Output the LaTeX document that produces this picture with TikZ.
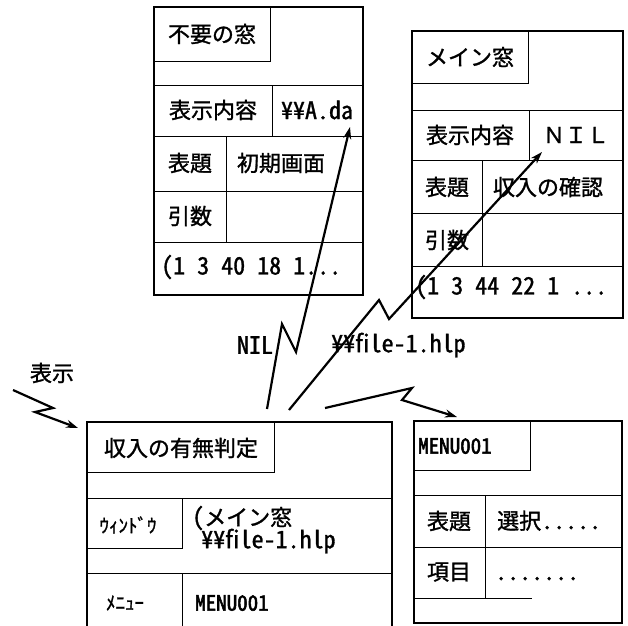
\documentclass[tikz,border=0pt]{standalone}
\usepackage{fontspec}
\setmainfont[FakeBold=1.3]{Noto Sans CJK JP}
\newfontfamily\hw[RawFeature=+hwid,FakeBold=1.3]{Noto Sans CJK JP}
\newfontfamily\hwb[RawFeature=+hwid,FakeBold=2.5]{Noto Sans CJK JP}
\usetikzlibrary{arrows.meta,fit}
\begin{document}
\begin{tikzpicture}[x=1pt,y=-1pt,
  cell/.style={draw,line width=1pt,inner sep=0pt,outer sep=0pt},
  frame/.style={draw,line width=2.6pt,inner sep=0pt,outer sep=0pt},
  jt/.style={font=\fontsize{22}{22}\selectfont,inner sep=0pt},
  js/.style={font=\fontsize{19}{19}\selectfont,inner sep=0pt},
  lt/.style={font=\hw\fontsize{24}{24}\selectfont,inner sep=0pt},
  lb/.style={font=\hwb\fontsize{21}{21}\selectfont,inner sep=0pt},
  arr/.style={line width=2.2pt,-{Stealth[length=12pt,width=8pt]}}]
\useasboundingbox (0,0) rectangle (628,625);
% ---------- top-left window
\node[cell,fit={(154,7)(270,61)}] (tlName) {};
\node[cell,fit={(154,85)(363,136)}] (tlRow1) {};
\node[cell,fit={(154,85)(272,136)}] (tlDisp) {};
\node[cell,fit={(154,136)(363,191)}] (tlRow2) {};
\node[cell,fit={(154,136)(226,191)}] (tlTitle) {};
\node[cell,fit={(154,191)(226,242)}] (tlArg) {};
\node[cell,fit={(154,242)(363,295)}] (tlRow4) {};
\node[frame,fit={(154,7)(363,295)}] (tl) {};
\node[jt] (tlT1) at (212,34) {不要の窓};
\node[jt] (tlT2) at (213,110) {表示内容};
\node[lt] (tlA) at (317,110) {¥¥A.da};
\node[jt] (tlT3) at (190,163) {表題};
\node[jt] (tlT4) at (281,163) {初期画面};
\node[jt] (tlT5) at (190,216) {引数};
\node[lt,anchor=west] (tlT6) at (161,267) {(1 3 40 18 1...};
% ---------- top-right window
\node[cell,fit={(412,31)(528,83)}] (trName) {};
\node[cell,fit={(412,110)(623,160)}] (trRow1) {};
\node[cell,fit={(412,110)(529,160)}] (trDisp) {};
\node[cell,fit={(412,160)(623,213)}] (trRow2) {};
\node[cell,fit={(412,160)(482,213)}] (trTitle) {};
\node[cell,fit={(412,213)(482,266)}] (trArg) {};
\node[cell,fit={(412,266)(623,318)}] (trRow4) {};
\node[frame,fit={(412,31)(623,318)}] (tr) {};
\node[jt] (trT1) at (470,57) {メイン窓};
\node[jt] (trT2) at (470,135) {表示内容};
\node[jt] (trN) at (576,135) {ＮＩＬ};
\node[jt] (trT3) at (447,187) {表題};
\node[jt] (trT4) at (548,187) {収入の確認};
\node[jt] (trT5) at (447,240) {引数};
\node[lt,anchor=west] (trT6) at (415,287) {(1 3 44 22 1 ...};
% ---------- bottom-left window
\node[cell,fit={(87,422)(274,472)}] (blName) {};
\node[cell,fit={(87,498)(392,573)}] (blRow1) {};
\node[cell,fit={(87,498)(182,548)}] (blWin) {};
\node[cell,fit={(87,573)(182,640)}] (blMenu) {};
\node[frame,fit={(87,422)(392,640)}] (bl) {};
\node[jt] (blT1) at (181,448) {収入の有無判定};
\node[js] (blT2) at (128,525) {ｳｨﾝﾄﾞｳ};
\node[jt,anchor=west] (blT3) at (192,518) {\hw\fontsize{24}{24}\selectfont(\normalfont\fontsize{22}{22}\selectfont メイン窓};
\node[lt,anchor=west] (blT4) at (201,541) {¥¥file-1.hlp};
\node[js] (blT5) at (125,603) {ﾒﾆｭｰ};
\node[lb,anchor=west] (blT6) at (195,603) {MENU001};
% ---------- bottom-right window
\node[cell,fit={(414,421)(530,470)}] (brName) {};
\node[cell,fit={(414,495)(622,547)}] (brRow1) {};
\node[cell,fit={(414,495)(485,547)}] (brTitle) {};
\node[cell,fit={(414,547)(485,598)}] (brItem) {};
\node[frame,fit={(414,421)(622,623)}] (br) {};
\coordinate (brL) at (414,598);
\coordinate (brR) at (532,598);
\draw[line width=1pt] (brL) -- (brR);
\node[lb,anchor=west] (brT1) at (418,446) {MENU001};
\node[jt] (brT2) at (449,521) {表題};
\node[jt,anchor=base west] (brT3) at (497,529) {選択{\hw\fontsize{24}{24}\selectfont .....}};
\node[jt] (brT4) at (449,572) {項目};
\node[lt,anchor=base west] (brT5) at (495,580) {.......};
% ---------- labels
\node[lt] (lNil) at (255,345) {NIL};
\node[lt,anchor=west] (lFile) at (331,345) {¥¥file-1.hlp};
\node[jt] (lDisp) at (52,373) {表示};
% ---------- connectors
\coordinate (p0) at (267,409);
\coordinate (p1) at (282,324);
\coordinate (p2) at (296,352);
\coordinate (p3) at (350,127);
\draw[arr] (p0) -- (p1) -- (p2) -- (p3);
\coordinate (q0) at (289,410);
\coordinate (q1) at (379,300);
\coordinate (q2) at (389,319);
\coordinate (q3) at (542,152);
\draw[arr] (q0) -- (q1) -- (q2) -- (q3);
\coordinate (r0) at (325,408);
\coordinate (r1) at (412,388);
\coordinate (r2) at (402,400);
\coordinate (r3) at (457,417);
\draw[arr] (r0) -- (r1) -- (r2) -- (r3);
\coordinate (s0) at (13,390);
\coordinate (s1) at (53,408);
\coordinate (s2) at (35,412);
\coordinate (s3) at (78,428);
\draw[arr] (s0) -- (s1) -- (s2) -- (s3);
\end{tikzpicture}
\end{document}
